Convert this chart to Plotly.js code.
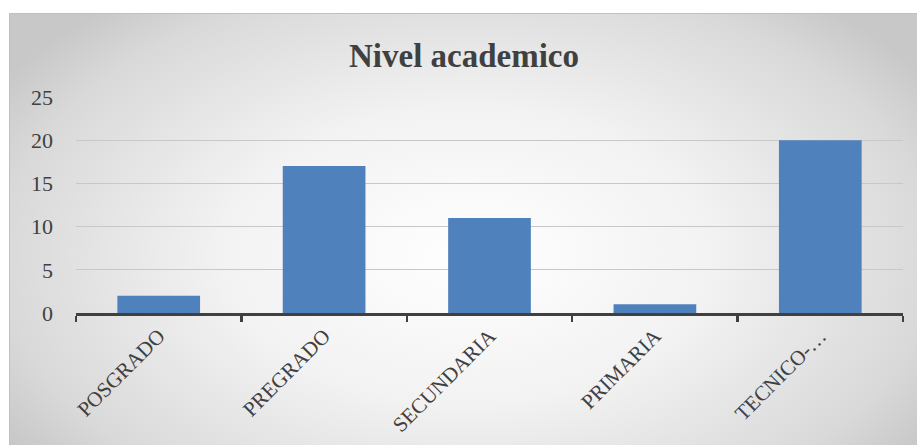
<!DOCTYPE html>
<html><head><meta charset="utf-8">
<script src="https://cdn.plot.ly/plotly-3.0.1.min.js"></script>
<style>
html,body{margin:0;padding:0;background:#fff;}
#wrap{position:absolute;left:0;top:0;width:917px;height:445px;background:#fff;overflow:hidden;}
#frame{position:absolute;left:9px;top:13px;width:914px;height:440px;border:1px solid #c0c0c0;
background:radial-gradient(ellipse 60% 75% at 50% 55%, #ffffff 0%, #f2f2f2 45%, #d9d9d9 85%, #c8c8c8 100%);}
#chart{position:absolute;left:0;top:0;width:908px;height:432px;}
</style></head>
<body><div id="wrap"><div id="frame"><div id="chart"></div></div></div>
<script>
const categories = ["POSGRADO", "PREGRADO", "SECUNDARIA", "PRIMARIA", "TECNICO-…"];
const values = [2, 17, 11, 1, 20];
const yTicks = [0, 5, 10, 15, 20, 25];

const trace = {
  type: 'bar', x: categories, y: values,
  marker: {color: '#4f81bd'}, hoverinfo: 'x+y'
};
const txt = '#404040';
const layout = {
  width: 908, height: 432,
  paper_bgcolor: 'rgba(0,0,0,0)', plot_bgcolor: 'rgba(0,0,0,0)',
  margin: {l: 66, r: 15, t: 83, b: 133},
  title: {text: '<b>Nivel academico</b>', x: 0.5, xanchor: 'center', y: 0.905, yanchor: 'middle',
          font: {family: 'Liberation Serif, serif', size: 33, color: txt}},
  bargap: 0.5,
  showlegend: false,
  xaxis: {
    type: 'category', showgrid: false, showline: true, linecolor: '#404040', linewidth: 2.5,
    ticks: 'outside', tickson: 'boundaries', ticklen: 6, tickwidth: 2.5, tickcolor: '#404040',
    tickangle: -45, tickfont: {family: 'Liberation Serif, serif', size: 21, color: txt},
    zeroline: false
  },
  yaxis: {
    range: [0, 25], tickvals: yTicks, showgrid: true, gridcolor: '#c8c8c8', gridwidth: 1,
    showline: false, zeroline: false, ticks: '', ticklabelstandoff: 22,
    tickfont: {family: 'Liberation Serif, serif', size: 22, color: txt}
  }
};
Plotly.newPlot('chart', [trace], layout, {displayModeBar: false, staticPlot: true});
</script></body></html>
